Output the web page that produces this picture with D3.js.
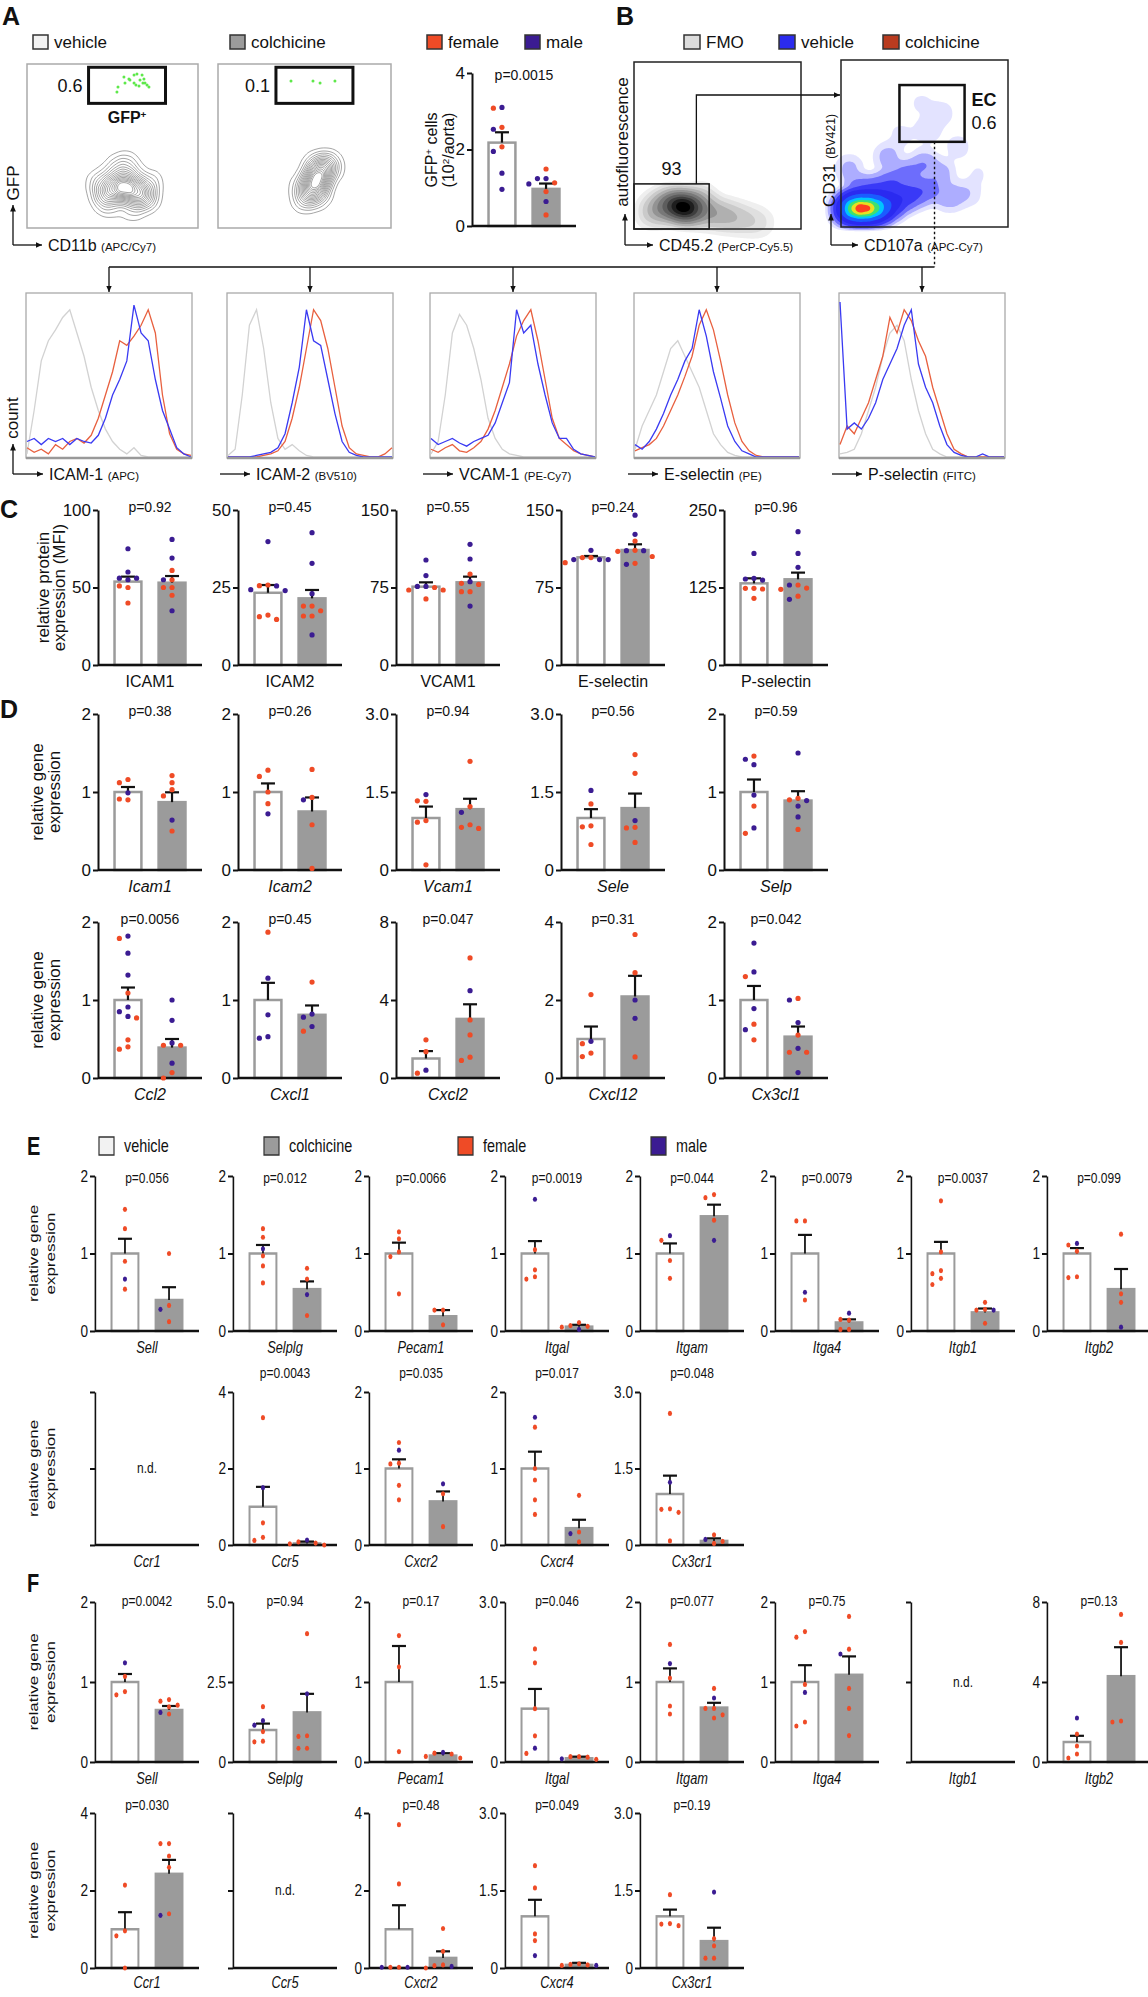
<!DOCTYPE html>
<html>
<head>
<meta charset="utf-8">
<script src="https://cdn.jsdelivr.net/npm/d3@7"></script>
<style>
  body { margin: 0; background: #fff; }
  svg { display: block; }
  text { font-family: "Liberation Sans", Arial, Helvetica, sans-serif; fill: #111; }
</style>
</head>
<body>
<svg id="fig" width="1148" height="1997"></svg>
<script>
/** DATA **/
let groups = ['vehicle', 'colchicine'];

// A: flow plots (CD11b vs GFP, 0-100 display units)
let gfpGates = [[36, 81, 76, 98], [33.5, 78, 76, 98]];
let gfpGatePct = ['0.6', '0.1'];
let gfpEventsVeh = [[52.6,82.9],[53.2,86.0],[56.7,92.1],[57.3,88.4],[60.2,90.2],[62.6,93.3],[64.3,93.9],
  [66.1,90.2],[67.3,93.3],[67.8,88.4],[63.7,87.2],[65.5,86.6],[69.0,88.4],[70.2,87.2],[71.3,86.0],
  [59.6,90.9],[68.4,90.9],[62.6,88.4]];
let gfpEventsCol = [[42.2,89.6],[54.9,89.6],[59.0,88.4],[67.6,89.6]];
let cellsVeh = [[57,24,3],[65,22,2],[50,25,1.5],[45,20,1],[70,18,1],[60,32,1],[52,35,0.8],[42,28,0.6],
  [72,28,0.6],[58,40,0.5],[48,14,0.6],[62,12,0.6]];
let cellsCol = [[57,29,3],[60,35,1.5],[54,23,1.5],[63,40,0.8],[50,17,0.8],[66,36,0.5],[48,26,0.5],
  [58,20,0.8],[56,38,0.7]];

// A: GFP+ cells (10^2/aorta)
let gfpTicks = ['0', '2', '4'];
let gfpMean = [2.18, 0.97];
let gfpSem = [0.27, 0.14];
let gfpP = 'p=0.0015';
let gfpVehF = [3.08, 2.58, 2.07];
let gfpVehM = [3.1, 2.53, 1.95, 1.38, 0.96];
let gfpColF = [1.49, 1.13, 0.9, 0.29];
let gfpColM = [1.24, 1.24, 1.1, 0.64];

// B: gating plots (0-100 display units)
let leukoGate = [0, 45, 0, 27];
let leukoPct = '93';
let leukoCells = [[30,13,3],[25,14,2],[35,12,2],[20,15,1],[15,12,0.8],[45,10,1],[55,8,0.8],[65,6,0.5],
  [75,4,0.3],[40,18,0.5],[10,10,0.4]];
let ecGate = [35, 74, 51, 85];
let ecPct = '0.6';
let ecCells = [[8,11,7],[14,11,7],[20,11,6],[26,12,3],[3,11,3],[33,15,1.6],[42,19,1.2],[52,22,0.8],
  [30,26,1],[40,32,0.7],[20,22,1.2],[10,22,0.9],[5,35,0.35],[50,38,0.5],[60,32,0.4],[65,18,0.5],
  [76,20,0.25],[52,58,0.25],[60,68,0.2],[48,74,0.12],[70,48,0.18],[28,42,0.4],[36,55,0.15],[82,32,0.1]];

// B: histograms (count, % of max, 24 bins)
let histMarkers = ['ICAM-1', 'ICAM-2', 'VCAM-1', 'E-selectin', 'P-selectin'];
let histFluors = ['(APC)', '(BV510)', '(PE-Cy7)', '(PE)', '(FITC)'];
let histFMO = [
  [2,30,62,75,82,90,95,80,65,45,30,18,10,5,2,6,1,0,0,0,0,0,0,0],
  [1,5,40,85,95,70,35,12,5,8,4,1,0,0,0,0,0,0,0,0,0,0,0,0],
  [2,10,40,80,92,85,70,50,25,12,5,2,1,0,0,0,0,0,0,0,0,0,0,0],
  [5,20,30,40,55,70,75,65,55,45,30,15,8,3,1,0,0,0,0,0,0,0,0,0],
  [2,3,5,15,30,45,65,80,85,75,50,30,15,5,2,0,0,0,0,0,0,0,0,0]];
let histVeh = [
  [10,12,8,12,10,12,8,12,10,9,14,25,40,50,62,98,80,75,50,30,18,6,2,0],
  [0,0,0,0,1,2,3,6,15,35,58,95,75,72,50,28,10,3,1,0,0,0,0,0],
  [12,8,10,12,9,7,10,12,14,22,35,48,95,80,85,60,40,22,12,12,5,2,1,0],
  [8,5,10,18,28,40,50,62,70,95,78,55,38,20,10,4,2,0,0,0,0,0,0,0],
  [100,18,22,18,25,35,50,60,70,85,95,60,45,35,20,8,3,1,0,0,2,0,0,0]];
let histCol = [
  [6,3,5,2,8,5,10,12,9,14,25,40,55,75,72,78,85,95,80,40,15,5,2,1],
  [0,0,0,0,0,1,2,4,10,25,45,70,95,88,70,45,20,6,2,1,0,0,2,6],
  [5,3,6,8,4,3,6,10,18,30,45,60,78,88,95,75,50,25,12,8,4,2,1,0],
  [4,6,8,12,20,30,40,52,65,85,95,82,62,40,22,10,4,1,0,0,0,0,0,0],
  [8,20,15,25,35,50,65,90,80,95,88,75,65,45,30,15,5,2,0,0,0,0,0,0]];

// C: relative protein expression (MFI)
let cLabels = ['ICAM1', 'ICAM2', 'VCAM1', 'E-selectin', 'P-selectin'];
let cMax = [100, 50, 150, 150, 250];
let cTicks = [['0','50','100'], ['0','25','50'], ['0','75','150'], ['0','75','150'], ['0','125','250']];
let cP = ['p=0.92', 'p=0.45', 'p=0.55', 'p=0.24', 'p=0.96'];
let cMean = [[53.8, 53.1], [23.3, 21.5], [75.8, 80], [104.2, 111.3], [131.7, 138.2]];
let cSem = [[3.2, 4.3], [2.5, 2.7], [4.2, 5.5], [1.3, 5.5], [8.1, 10.8]];
let cVehF = [[51,50,40], [25.8,25.6,16.1,14.7,15.6], [75,72.6,72.6,63.9], [104,104,99], [123.7,122.6,123.7,107.5]];
let cVehM = [[75,60,56,56,55], [39.8,25.5,24,24.3], [101.6,86.5,76,76], [111,102,102,102], [180,137,138.7,139.8]];
let cColF = [[61,55,50,50,45], [19,19,17.5,15.8,15.8], [88,79,78,71,71], [120,111,110,105,98.4], [129,124,122,111]];
let cColM = [[81,69,55,35], [42.7,32.8,23,9.7], [116.8,102.6,80.6,57], [145,126.5,110.6,110.6,97.4], [215,180,157.5,129,106]];

// D: relative gene expression, adhesion molecules
let d1Labels = ['Icam1', 'Icam2', 'Vcam1', 'Sele', 'Selp'];
let d1Max = [2, 2, 3, 3, 2];
let d1Ticks = [['0','1','2'], ['0','1','2'], ['0','1.5','3.0'], ['0','1.5','3.0'], ['0','1','2']];
let d1P = ['p=0.38', 'p=0.26', 'p=0.94', 'p=0.56', 'p=0.59'];
let d1Mean = [[1, 0.87], [1, 0.75], [1, 1.17], [1, 1.19], [1, 0.89]];
let d1Sem = [[0.064, 0.126], [0.11, 0.18], [0.22, 0.2], [0.17, 0.28], [0.16, 0.12]];
let d1VehF = [[1.16,1.12,0.91,0.9], [1.28,1.2,1.0,0.85], [1.33,1.32,0.95,0.92,0.1], [1.27,0.85,0.83,0.49], [1.46,0.82,0.47]];
let d1VehM = [[0.99], [0.72], [1.45], [1.53], [1.42,1.35,0.96,0.54]];
let d1ColF = [[1.21,1.12,1.03,0.95,0.5], [1.29,0.93,0.58,0.02], [2.09,1.22,0.87,0.82,0.8], [2.22,1.86,0.82,0.81,0.53], [0.92,0.9,0.52]];
let d1ColM = [[0.64], [0.9], [1.11], [0.95], [1.5,0.89,0.82,0.68]];

// D: relative gene expression, chemokines
let d2Labels = ['Ccl2', 'Cxcl1', 'Cxcl2', 'Cxcl12', 'Cx3cl1'];
let d2Max = [2, 2, 8, 4, 2];
let d2Ticks = [['0','1','2'], ['0','1','2'], ['0','4','8'], ['0','2','4'], ['0','1','2']];
let d2P = ['p=0.0056', 'p=0.45', 'p=0.047', 'p=0.31', 'p=0.042'];
let d2Mean = [[1, 0.39], [1, 0.81], [1, 3.03], [1, 2.09], [1, 0.53]];
let d2Sem = [[0.16, 0.11], [0.22, 0.12], [0.38, 0.75], [0.32, 0.53], [0.18, 0.13]];
let d2VehF = [[1.79,1.09,0.77,0.49,0.4,0.37], [1.87], [1.96,1.35,0.25], [2.14,0.88,0.64,0.55], [1.3,0.69,0.49]];
let d2VehM = [[1.82,1.6,1.32,0.91,0.85,0.79], [1.28,0.81,0.53,0.51], [0.4], [0.94], [1.73,1.36,0.89,0.62]];
let d2ColF = [[0.42,0.42,0.07,0.0], [1.23,0.6], [6.16,2.98,2.21,1.07,0.9], [3.68,2.7,0.54], [1.02,0.55,0.33,0.33]];
let d2ColM = [[1.0,0.74,0.45,0.19], [0.82,0.78,0.66], [4.48], [2.0,1.53], [1.0,0.71,0.38,0.07]];

// E: leukocyte adhesion molecules
let e1Labels = ['Sell', 'Selplg', 'Pecam1', 'Itgal', 'Itgam', 'Itga4', 'Itgb1', 'Itgb2'];
let e1Max = [2, 2, 2, 2, 2, 2, 2, 2];
let e1Ticks = [['0','1','2'], ['0','1','2'], ['0','1','2'], ['0','1','2'], ['0','1','2'], ['0','1','2'], ['0','1','2'], ['0','1','2']];
let e1P = ['p=0.056', 'p=0.012', 'p=0.0066', 'p=0.0019', 'p=0.044', 'p=0.0079', 'p=0.0037', 'p=0.099'];
let e1Mean = [[1, 0.4], [1, 0.54], [1, 0.19], [1, 0.056], [1, 1.48], [1, 0.11], [1, 0.24], [1, 0.54]];
let e1Sem = [[0.19, 0.165], [0.11, 0.1], [0.14, 0.08], [0.16, 0.024], [0.13, 0.15], [0.24, 0.04], [0.15, 0.05], [0.07, 0.26]];
let e1VehF = [[1.57,1.32,0.9,0.54], [1.32,1.21,0.97,0.84,0.62], [1.28,1.19,1.02,0.96,0.48], [1.05,0.79,0.7,0.67],
  [1.17,0.91,0.68], [1.42,1.42,0.4], [1.68,1.02,0.78,0.74,0.68,0.6], [1.11,1.03,0.7,0.69]];
let e1VehM = [[0.67], [1.06], [], [1.7], [1.23], [0.5], [], [1.13]];
let e1ColF = [[1.0,0.33,0.12], [0.81,0.67,0.2], [0.27,0.27,0.08], [0.11,0.06,0.05,0.07], [1.72,1.76,1.43],
  [0.15,0.14,0.02,0.02], [0.37,0.28,0.27,0.1], [1.25,0.48,0.37]];
let e1ColM = [[0.28], [0.47], [], [0.02], [1.17], [0.23], [0.27], [0.05]];

// E: chemokine receptors
let e2Labels = ['Ccr1', 'Ccr5', 'Cxcr2', 'Cxcr4', 'Cx3cr1'];
let e2Max = [2, 4, 2, 2, 3];
let e2Ticks = [['','',''], ['0','2','4'], ['0','1','2'], ['0','1','2'], ['0','1.5','3.0']];
let e2P = ['n.d.', 'p=0.0043', 'p=0.035', 'p=0.017', 'p=0.048'];
let e2Mean = [null, [1, 0.04], [1, 0.57], [1, 0.22], [1, 0.08]];
let e2Sem = [null, [0.52, 0.05], [0.12, 0.13], [0.22, 0.11], [0.36, 0.05]];
let e2VehF = [[], [3.33,0.58,0.2,0.12], [1.34,1.07,1.06,0.78,0.59], [1.54,1.0,0.85,0.59,0.4], [2.58,0.71,0.7,0.64,0.08]];
let e2VehM = [[], [1.5], [1.24], [1.67], [1.23]];
let e2ColF = [[], [0.0,0.05,0.08,0.03], [0.67,0.24], [0.65,0.17,0.04], [0.2,0.07,0.03]];
let e2ColM = [[], [0.13], [0.8], [0.15], [0.11]];

// F: leukocyte adhesion molecules
let f1Labels = ['Sell', 'Selplg', 'Pecam1', 'Itgal', 'Itgam', 'Itga4', 'Itgb1', 'Itgb2'];
let f1Max = [2, 5, 2, 3, 2, 2, 2, 8];
let f1Ticks = [['0','1','2'], ['0','2.5','5.0'], ['0','1','2'], ['0','1.5','3.0'], ['0','1','2'], ['0','1','2'], ['','',''], ['0','4','8']];
let f1P = ['p=0.0042', 'p=0.94', 'p=0.17', 'p=0.046', 'p=0.077', 'p=0.75', 'n.d.', 'p=0.13'];
let f1Mean = [[1, 0.65], [1, 1.55], [1, 0.08], [1, 0.07], [1, 0.68], [1, 1.09], null, [1, 4.29]];
let f1Sem = [[0.1, 0.05], [0.2, 0.58], [0.45, 0.03], [0.37, 0.03], [0.17, 0.06], [0.21, 0.23], null, [0.31, 1.45]];
let f1VehF = [[1.07,0.84,0.88], [1.73,0.95,0.63,0.65], [1.58,1.19,0.13], [2.12,1.86,1.0,0.49,0.16],
  [1.47,1.05,0.7,0.6], [1.63,1.56,0.97,0.5,0.45], [], [1.4,0.8,0.4,0.2]];
let f1VehM = [[1.24], [1.29,1.15], [], [0.26], [1.23], [0.87], [], [2.2]];
let f1ColF = [[0.78,0.76,0.71,0.69,0.6], [4.01,0.82,0.8,0.43,0.43], [0.11,0.1,0.07,0.05], [0.1,0.1,0.09,0.05],
  [0.92,0.67,0.67,0.59,0.55], [1.82,1.41,0.92,0.67,0.33], [], [7.38,5.98,2.05,2.0]];
let f1ColM = [[0.62], [2.13], [0.12], [0.06], [0.8], [1.35], [], []];

// F: chemokine receptors
let f2Labels = ['Ccr1', 'Ccr5', 'Cxcr2', 'Cxcr4', 'Cx3cr1'];
let f2Max = [4, 4, 4, 3, 3];
let f2Ticks = [['0','2','4'], ['','',''], ['0','2','4'], ['0','1.5','3.0'], ['0','1.5','3.0']];
let f2P = ['p=0.030', 'n.d.', 'p=0.48', 'p=0.049', 'p=0.19'];
let f2Mean = [[1, 2.43], null, [1, 0.26], [1, 0.06], [1, 0.52]];
let f2Sem = [[0.44, 0.36], null, [0.62, 0.17], [0.32, 0.04], [0.13, 0.26]];
let f2VehF = [[2.14,0.96,0.83,0.0], [], [3.7,2.17,0.02,0.02], [1.98,1.55,0.66,0.53], [1.42,0.82,0.86,0.85]];
let f2VehM = [[], [], [0.02,0.02], [0.24], []];
let f2ColF = [[3.21,3.21,2.89,2.6,1.4], [], [1.02,0.43,0.08,0.06,0.0], [0.08,0.07,0.06,0.05], [0.57,0.43,0.19,0.19]];
let f2ColM = [[1.36], [], [0.04], [0.05], [1.47]];

/** CONSTANTS **/
const INK = '#111';
const FEMALE = '#ef4b26';
const MALE = '#3b1c92';
const BARGRAY = '#9b9b9b';
const svg = d3.select('#fig');

svg.append('defs').append('marker')
  .attr('id', 'arr').attr('viewBox', '0 0 10 10')
  .attr('refX', 10).attr('refY', 5)
  .attr('markerWidth', 5).attr('markerHeight', 5).attr('orient', 'auto')
  .append('path').attr('d', 'M0,0.5L10,5L0,9.5Z').attr('fill', INK);

/** HELPERS **/
function addSegs(t, segs) {
  segs.forEach(function(s) {
    let ts = t.append('tspan').text(s[0]);
    if (s[1] === 'sup') ts.attr('baseline-shift', 'super').style('font-size', '0.62em');
    if (s[1] === 'small') ts.style('font-size', '0.72em');
    if (s[1] === 'bold') ts.style('font-weight', 'bold');
  });
  return t;
}

function panelLetter(t, x, y, sx) {
  svg.append('text')
    .attr('transform', 'translate(' + x + ',' + y + ') scale(' + (sx || 1) + ',1)')
    .style('font-size', '25px').style('font-weight', 'bold').text(t);
}

// legend boxes: xs are box lefts (true px)
function legend(xs, fills, labels, yTop, bw, bh, gap, sx, size) {
  let g = svg.append('g').attr('transform', 'scale(' + sx + ',1)');
  xs.forEach(function(x, i) {
    g.append('rect').attr('x', x / sx).attr('y', yTop).attr('width', bw / sx).attr('height', bh)
      .attr('fill', fills[i]).attr('stroke', '#333').attr('stroke-width', 1.5);
    g.append('text').attr('x', (x + bw + gap) / sx).attr('y', yTop + bh / 2).attr('dy', '0.36em')
      .style('font-size', size + 'px').text(labels[i]);
  });
}

function arrow(points, width) {
  svg.append('path').attr('d', d3.line()(points))
    .attr('fill', 'none').attr('stroke', INK).attr('stroke-width', width || 1.3)
    .attr('marker-end', 'url(#arr)');
}

function rotText(x, y, anchor, size, segs, sx) {
  let t = svg.append('text')
    .attr('transform', 'translate(' + x + ',' + y + ') scale(' + (sx || 1) + ',1) rotate(-90)')
    .attr('text-anchor', anchor).attr('dy', '0.35em').style('font-size', size + 'px');
  return addSegs(t, segs);
}

function flowBox(x0, y0, x1, y1) {
  let g = svg.append('g').attr('transform', 'translate(' + x0 + ',' + y0 + ')');
  let w = x1 - x0, h = y1 - y0;
  return {
    g: g, w: w, h: h, x0: x0, y0: y0,
    x: d3.scaleLinear().domain([0, 100]).range([0, w]),
    y: d3.scaleLinear().domain([0, 100]).range([h, 0])
  };
}

function densityLayers(pts, sc, bw, fracs) {
  let gen = d3.contourDensity()
    .x(function(d) { return sc.x(d[0]); })
    .y(function(d) { return sc.y(d[1]); })
    .weight(function(d) { return d[2]; })
    .size([Math.ceil(sc.w), Math.ceil(sc.h)]).cellSize(1).bandwidth(bw);
  let probe = gen.thresholds(80)(pts);
  let maxV = d3.max(probe, function(d) { return d.coordinates.length ? d.value : 0; });
  return gen.thresholds(fracs.map(function(f) { return f * maxV; }))(pts);
}

function gateRect(sc, gate, width) {
  sc.g.append('rect')
    .attr('x', sc.x(gate[0])).attr('y', sc.y(gate[3]))
    .attr('width', sc.x(gate[1]) - sc.x(gate[0])).attr('height', sc.y(gate[2]) - sc.y(gate[3]))
    .attr('fill', 'none').attr('stroke', INK).attr('stroke-width', width);
}

function frameRect(sc, stroke) {
  sc.g.append('rect').attr('width', sc.w).attr('height', sc.h)
    .attr('fill', 'none').attr('stroke', stroke).attr('stroke-width', 1.5);
}

// simple beeswarm in true px
function swarm(vals, y, r) {
  let placed = [];
  let step = 2 * r + 3.4;
  vals.slice().sort(function(a, b) { return b.v - a.v; }).forEach(function(d) {
    let cy = y(d.v), dx = 0;
    let options = [0, -1, 1, -2, 2, -3, 3];
    for (let k = 0; k < options.length; k++) {
      let cand = options[k] * step;
      let ok = placed.every(function(p) { return Math.hypot(p.dx - cand, p.cy - cy) >= 2 * r + 1.5; });
      if (ok) { dx = cand; break; }
    }
    placed.push({ dx: dx, cy: cy, c: d.c });
  });
  return placed;
}

function barChart(o) {
  let sx = o.sx;
  let W = 104 / sx;
  let r = 2.6;
  let g = svg.append('g').attr('transform', 'translate(' + o.x + ',0) scale(' + sx + ',1)');
  let y = d3.scaleLinear().domain([0, o.max]).range([o.zero, o.top]);
  let xb = d3.scaleBand().domain(groups).range([0, W]).paddingInner(0.39).paddingOuter(0.375);

  let ax = g.append('g').call(d3.axisLeft(y)
    .tickValues([0, o.max / 2, o.max])
    .tickFormat(function(d, i) { return o.ticks[i]; })
    .tickSize(5 / sx).tickSizeOuter(0).tickPadding(2 / sx));
  ax.attr('font-family', null).attr('font-size', null);
  ax.select('.domain').attr('stroke', INK).attr('stroke-width', 2);
  ax.selectAll('.tick line').attr('stroke', INK).attr('stroke-width', 2);
  ax.selectAll('.tick text').style('font-size', '17px');

  if (o.mean === null) {
    g.append('line').attr('x1', 0).attr('x2', W).attr('y1', o.zero).attr('y2', o.zero)
      .attr('stroke', INK).attr('stroke-width', 2.5);
    g.append('text').attr('x', W / 2).attr('y', (o.top + o.zero) / 2 + 5)
      .attr('text-anchor', 'middle').style('font-size', o.pSize + 'px').text(o.p);
  } else {
    groups.forEach(function(name, i) {
      let m = o.mean[i];
      g.append('rect').attr('x', xb(name)).attr('width', xb.bandwidth())
        .attr('y', y(m)).attr('height', o.zero - y(m))
        .attr('fill', i ? BARGRAY : '#fff').attr('stroke', BARGRAY).attr('stroke-width', 2.5);
    });
    g.append('line').attr('x1', 0).attr('x2', W).attr('y1', o.zero).attr('y2', o.zero)
      .attr('stroke', INK).attr('stroke-width', 2.5);
    groups.forEach(function(name, i) {
      let cx = xb(name) + xb.bandwidth() / 2;
      let m = o.mean[i], s = o.sem[i];
      g.append('line').attr('x1', cx).attr('x2', cx).attr('y1', y(m)).attr('y2', y(m + s))
        .attr('stroke', INK).attr('stroke-width', 2.2);
      g.append('line').attr('x1', cx - 7 / sx).attr('x2', cx + 7 / sx).attr('y1', y(m + s)).attr('y2', y(m + s))
        .attr('stroke', INK).attr('stroke-width', 2.2);
    });
    let sets = [[o.vehF, o.vehM], [o.colF, o.colM]];
    groups.forEach(function(name, i) {
      let cx = xb(name) + xb.bandwidth() / 2;
      let vals = sets[i][0].map(function(v) { return { v: v, c: FEMALE }; })
        .concat(sets[i][1].map(function(v) { return { v: v, c: MALE }; }));
      swarm(vals, y, r).forEach(function(d) {
        g.append('circle').attr('cx', cx + d.dx / sx).attr('cy', d.cy).attr('r', r).attr('fill', d.c);
      });
    });
    g.append('text').attr('x', W / 2).attr('y', o.pY).attr('text-anchor', 'middle')
      .style('font-size', o.pSize + 'px').text(o.p);
  }
  if (o.label) {
    g.append('text').attr('x', W / 2).attr('y', o.zero + o.labDy).attr('text-anchor', 'middle')
      .style('font-size', '16px').style('font-style', o.italic ? 'italic' : 'normal').text(o.label);
  }
}

function drawRow(L, d) {
  d.labels.forEach(function(lab, i) {
    barChart({
      x: L.xs[i], top: L.top, zero: L.zero, sx: L.sx, max: d.max[i], ticks: d.ticks[i],
      mean: d.mean[i], sem: d.sem[i], p: d.p[i], pY: L.top + L.pDy, pSize: L.pSize,
      vehF: d.vehF[i], vehM: d.vehM[i], colF: d.colF[i], colM: d.colM[i],
      label: lab, italic: L.italic, labDy: L.labDy || 22
    });
  });
  rotText(L.yl[0], (L.top + L.zero) / 2, 'middle', 17, [[L.title[0]]], L.sx);
  rotText(L.yl[1], (L.top + L.zero) / 2, 'middle', 17, [[L.title[1]]], L.sx);
}

/** PANEL A **/
panelLetter('A', 2, 25);
legend([33, 230], ['#f2f2f2', BARGRAY], groups, 35, 15, 14, 6, 1, 17);
legend([427, 525], [FEMALE, MALE], ['female', 'male'], 35, 15, 14, 6, 1, 17);

[[27, 198, cellsVeh, gfpEventsVeh], [218, 391, cellsCol, gfpEventsCol]].forEach(function(p, i) {
  let sc = flowBox(p[0], 64, p[1], 228);
  let fr = d3.range(16).map(function(k) { return 0.05 + k * 0.058; });
  sc.g.selectAll(null).data(densityLayers(p[2], sc, 8, fr)).join('path')
    .attr('d', d3.geoPath()).attr('fill', 'none').attr('stroke', '#8a8a8a').attr('stroke-width', 0.8);
  gateRect(sc, gfpGates[i], 3);
  sc.g.selectAll(null).data(p[3]).join('circle')
    .attr('cx', function(d) { return sc.x(d[0]); }).attr('cy', function(d) { return sc.y(d[1]); })
    .attr('r', 1.5).attr('fill', '#5ee84a');
  sc.g.append('text').attr('x', sc.x(gfpGates[i][0]) - 6).attr('y', sc.y((gfpGates[i][2] + gfpGates[i][3]) / 2))
    .attr('dy', '0.36em').attr('text-anchor', 'end').style('font-size', '18px').text(gfpGatePct[i]);
  if (i === 0) {
    addSegs(sc.g.append('text').attr('x', sc.x((gfpGates[i][0] + gfpGates[i][1]) / 2)).attr('y', sc.y(gfpGates[i][2]) + 20)
      .attr('text-anchor', 'middle').style('font-size', '16px').style('font-weight', 'bold'), [['GFP'], ['+', 'sup']]);
  }
  frameRect(sc, '#aaa');
});

rotText(13, 183, 'middle', 17, [['GFP']]);
arrow([[13, 245], [13, 205]]);
arrow([[13, 245], [42, 245]]);
addSegs(svg.append('text').attr('x', 48).attr('y', 251).style('font-size', '16px'), [['CD11b '], ['(APC/Cy7)', 'small']]);

barChart({
  x: 472, top: 73, zero: 226, sx: 1, max: 4, ticks: gfpTicks,
  mean: gfpMean, sem: gfpSem, p: gfpP, pY: 80, pSize: 14,
  vehF: gfpVehF, vehM: gfpVehM, colF: gfpColF, colM: gfpColM, label: null
});
rotText(431, 150, 'middle', 16, [['GFP'], ['+', 'sup'], [' cells']]);
rotText(448, 150, 'middle', 16, [['(10'], ['2', 'sup'], ['/aorta)']]);

/** PANEL B **/
panelLetter('B', 616, 25);
legend([684, 779, 883], ['#dcdcdc', '#2b2bee', '#b93b1f'], ['FMO', 'vehicle', 'colchicine'], 35, 16, 14, 6, 1, 17);

let leuko = flowBox(634, 62, 801, 229);
let greyFr = [0.015, 0.04, 0.08, 0.14, 0.22, 0.32, 0.45, 0.6, 0.75, 0.9];
leuko.g.selectAll(null).data(densityLayers(leukoCells, leuko, 9, greyFr)).join('path')
  .attr('d', d3.geoPath())
  .attr('fill', function(d, i) { return d3.interpolateGreys(0.12 + 0.88 * i / (greyFr.length - 1)); });
gateRect(leuko, leukoGate, 1.5);
leuko.g.append('text').attr('x', leuko.x(leukoGate[1] / 2)).attr('y', leuko.y(leukoGate[3]) - 9)
  .attr('text-anchor', 'middle').style('font-size', '18px').text(leukoPct);
frameRect(leuko, '#222');

let ec = flowBox(841, 60, 1008, 227);
let ecFr = [0.006, 0.018, 0.04, 0.08, 0.15, 0.3, 0.5, 0.66, 0.8, 0.92];
let ecCols = ['rgba(80,80,255,0.16)', 'rgba(60,60,255,0.32)', 'rgba(45,45,250,0.5)', 'rgba(35,35,245,0.7)',
  '#2a2af0', '#1a5cff', '#00c4ff', '#3ee070', '#e8e020', '#ff4020'];
ec.g.selectAll(null).data(densityLayers(ecCells, ec, 8, ecFr)).join('path')
  .attr('d', d3.geoPath()).attr('fill', function(d, i) { return ecCols[i]; });
gateRect(ec, ecGate, 2.5);
ec.g.append('text').attr('x', ec.x(ecGate[1]) + 7).attr('y', ec.y(ecGate[3]) + 21)
  .style('font-size', '18px').style('font-weight', 'bold').text('EC');
ec.g.append('text').attr('x', ec.x(ecGate[1]) + 7).attr('y', ec.y(ecGate[3]) + 44)
  .style('font-size', '18px').text(ecPct);
frameRect(ec, '#222');

// gating arrows
let leukoExitX = leuko.x0 + leuko.x(leukoGate[1] * 0.83);
arrow([[leukoExitX, leuko.y0 + leuko.y(leukoGate[3])], [leukoExitX, 95], [ec.x0 - 1, 95]]);
rotText(622, 142, 'middle', 17, [['autofluorescence']]);
arrow([[625, 245], [625, 214]]);
arrow([[625, 245], [653, 245]]);
addSegs(svg.append('text').attr('x', 659).attr('y', 251).style('font-size', '16px'), [['CD45.2 '], ['(PerCP-Cy5.5)', 'small']]);
rotText(829, 207, 'start', 17, [['CD31 '], ['(BV421)', 'small']]);
arrow([[831, 245], [831, 214]]);
arrow([[831, 245], [858, 245]]);
addSegs(svg.append('text').attr('x', 864).attr('y', 251).style('font-size', '16px'), [['CD107a '], ['(APC-Cy7)', 'small']]);

// histogram row
let histX = [26, 227, 430, 634, 839];
let histW = 166, histY0 = 293, histY1 = 458;
let dotX = ec.x0 + ec.x(56);
svg.append('line').attr('x1', dotX).attr('x2', dotX).attr('y1', ec.y0 + ec.y(ecGate[2])).attr('y2', 267)
  .attr('stroke', INK).attr('stroke-width', 1.4).attr('stroke-dasharray', '2.5,2.5');
svg.append('line').attr('x1', histX[0] + histW / 2).attr('x2', dotX).attr('y1', 267).attr('y2', 267)
  .attr('stroke', INK).attr('stroke-width', 1.3);

let labelX = [13, 220, 423, 628, 832];
histMarkers.forEach(function(m, i) {
  let x0 = histX[i];
  arrow([[x0 + histW / 2, 267], [x0 + histW / 2, histY0 - 1]]);
  let hx = d3.scaleLinear().domain([0, histFMO[i].length - 1]).range([x0 + 1, x0 + histW - 1]);
  let hy = d3.scaleLinear().domain([0, 100]).range([histY1 - 1, histY0 + 9]);
  let line = d3.line().x(function(d, j) { return hx(j); }).y(function(d) { return hy(d); });
  svg.append('rect').attr('x', x0).attr('y', histY0).attr('width', histW).attr('height', histY1 - histY0)
    .attr('fill', '#fff').attr('stroke', '#aaa').attr('stroke-width', 1.3);
  [[histFMO[i], '#d2d2d2'], [histCol[i], '#e8603f'], [histVeh[i], '#3a3af2']].forEach(function(c) {
    svg.append('path').attr('d', line(c[0])).attr('fill', 'none').attr('stroke', c[1]).attr('stroke-width', 1.3);
  });
  svg.append('line').attr('x1', x0).attr('x2', x0 + histW).attr('y1', histY1).attr('y2', histY1)
    .attr('stroke', '#999').attr('stroke-width', 2.5);
  arrow([[labelX[i], 474], [labelX[i] + 30, 474]]);
  addSegs(svg.append('text').attr('x', labelX[i] + 36).attr('y', 480).style('font-size', '16px'),
    [[m + ' '], [histFluors[i], 'small']]);
});
rotText(12, 418, 'middle', 17, [['count']]);
arrow([[13, 474], [13, 444]]);

/** PANEL C **/
panelLetter('C', 0, 518);
drawRow({ xs: [98, 238, 396, 561, 724], top: 510, zero: 665, sx: 1, pDy: 2, pSize: 14, italic: false,
  yl: [43, 59], title: ['relative protein', 'expression (MFI)'] },
  { labels: cLabels, max: cMax, ticks: cTicks, p: cP, mean: cMean, sem: cSem,
    vehF: cVehF, vehM: cVehM, colF: cColF, colM: cColM });

/** PANEL D **/
panelLetter('D', 0, 718);
drawRow({ xs: [98, 238, 396, 561, 724], top: 714, zero: 870, sx: 1, pDy: 2, pSize: 14, italic: true,
  yl: [37, 54], title: ['relative gene', 'expression'] },
  { labels: d1Labels, max: d1Max, ticks: d1Ticks, p: d1P, mean: d1Mean, sem: d1Sem,
    vehF: d1VehF, vehM: d1VehM, colF: d1ColF, colM: d1ColM });
drawRow({ xs: [98, 238, 396, 561, 724], top: 922, zero: 1078, sx: 1, pDy: 2, pSize: 14, italic: true,
  yl: [37, 54], title: ['relative gene', 'expression'] },
  { labels: d2Labels, max: d2Max, ticks: d2Ticks, p: d2P, mean: d2Mean, sem: d2Sem,
    vehF: d2VehF, vehM: d2VehM, colF: d2ColF, colM: d2ColM });

/** PANELS E, F (horizontally condensed) **/
let colsEF = [95, 233, 369, 505, 640, 775, 911, 1047];
let SX = 0.8;
panelLetter('E', 27, 1155, SX);
legend([99, 264, 458, 651], ['#f2f2f2', BARGRAY, FEMALE, MALE], ['vehicle', 'colchicine', 'female', 'male'],
  1137, 15, 18, 10, SX, 18);
drawRow({ xs: colsEF, top: 1176, zero: 1331, sx: SX, pDy: 7, pSize: 15, italic: true,
  yl: [33, 50], title: ['relative gene', 'expression'] },
  { labels: e1Labels, max: e1Max, ticks: e1Ticks, p: e1P, mean: e1Mean, sem: e1Sem,
    vehF: e1VehF, vehM: e1VehM, colF: e1ColF, colM: e1ColM });
drawRow({ xs: colsEF, top: 1392, zero: 1545, sx: SX, pDy: -14, pSize: 15, italic: true,
  yl: [33, 50], title: ['relative gene', 'expression'] },
  { labels: e2Labels, max: e2Max, ticks: e2Ticks, p: e2P, mean: e2Mean, sem: e2Sem,
    vehF: e2VehF, vehM: e2VehM, colF: e2ColF, colM: e2ColM });

panelLetter('F', 27, 1592, SX);
drawRow({ xs: colsEF, top: 1602, zero: 1762, sx: SX, pDy: 4, pSize: 15, italic: true,
  yl: [33, 50], title: ['relative gene', 'expression'] },
  { labels: f1Labels, max: f1Max, ticks: f1Ticks, p: f1P, mean: f1Mean, sem: f1Sem,
    vehF: f1VehF, vehM: f1VehM, colF: f1ColF, colM: f1ColM });
drawRow({ xs: colsEF, top: 1813, zero: 1968, sx: SX, pDy: -3, pSize: 15, italic: true, labDy: 20,
  yl: [33, 50], title: ['relative gene', 'expression'] },
  { labels: f2Labels, max: f2Max, ticks: f2Ticks, p: f2P, mean: f2Mean, sem: f2Sem,
    vehF: f2VehF, vehM: f2VehM, colF: f2ColF, colM: f2ColM });
</script>
</body>
</html>
